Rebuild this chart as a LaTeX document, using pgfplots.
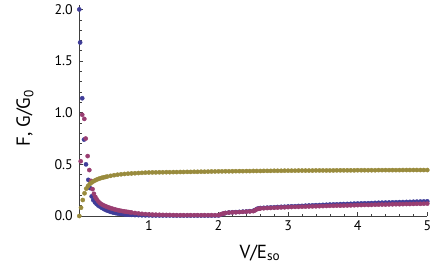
\documentclass[border=0pt]{standalone}
\usepackage{pgfplots}
\pgfplotsset{compat=1.18}
\usepackage{pgfplotstable}
\usepackage{fontspec}
\setmainfont{PT Sans}
\definecolor{mblue}{rgb}{0.2472,0.24,0.6}
\definecolor{mmag}{rgb}{0.6,0.24,0.4429}
\definecolor{molive}{rgb}{0.6,0.547,0.24}

\pgfplotstableread{
x y
0 2.00
0.012 1.68
0.042 1.14
0.068 0.74
0.096 0.50
0.13 0.35
0.155 0.27
0.178 0.19
0.2 0.155
0.225 0.132
0.25 0.115
0.275 0.10
0.3 0.09
0.325 0.079
0.35 0.069
0.375 0.06
0.4 0.053
0.425 0.047
0.45 0.041
0.475 0.036
0.5 0.032
0.525 0.028
0.55 0.025
0.575 0.022
0.6 0.02
0.625 0.018
0.65 0.016
0.675 0.014
0.7 0.013
0.725 0.012
0.75 0.011
0.8 0.009
0.85 0.008
0.9 0.007
0.95 0.006
1.0 0.006
1.05 0.005
1.1 0.005
1.15 0.005
1.2 0.005
1.25 0.005
1.3 0.005
1.35 0.004
1.4 0.004
1.45 0.004
1.5 0.004
1.55 0.004
1.6 0.004
1.65 0.004
1.7 0.004
1.75 0.004
1.8 0.004
1.85 0.004
1.9 0.004
1.95 0.004
2.0 0.005
2.025 0.011
2.05 0.018
2.075 0.024
2.1 0.029
2.15 0.034
2.2 0.036
2.25 0.038
2.3 0.040
2.35 0.042
2.4 0.044
2.45 0.047
2.5 0.050
2.525 0.058
2.55 0.068
2.575 0.074
2.6 0.077
2.65 0.079
2.7 0.081
2.75 0.083
2.8 0.085
2.85 0.087
2.9 0.089
2.95 0.090
3.0 0.092
3.05 0.094
3.1 0.095
3.15 0.097
3.2 0.098
3.25 0.100
3.3 0.102
3.35 0.103
3.4 0.105
3.45 0.106
3.5 0.108
3.55 0.109
3.6 0.111
3.65 0.112
3.7 0.113
3.75 0.115
3.8 0.116
3.85 0.117
3.9 0.118
3.95 0.120
4.0 0.121
4.05 0.122
4.1 0.123
4.15 0.124
4.2 0.125
4.25 0.127
4.3 0.128
4.35 0.129
4.4 0.130
4.45 0.131
4.5 0.132
4.55 0.133
4.6 0.134
4.65 0.135
4.7 0.136
4.75 0.137
4.8 0.138
4.85 0.139
4.9 0.140
4.95 0.141
5.0 0.142
}\blueG

\pgfplotstableread{
x y
0.02 0.53
0.042 0.98
0.072 0.94
0.092 0.75
0.12 0.58
0.144 0.445
0.168 0.34
0.19 0.26
0.21 0.215
0.23 0.185
0.25 0.162
0.275 0.14
0.3 0.123
0.325 0.112
0.35 0.103
0.375 0.095
0.4 0.088
0.425 0.082
0.45 0.076
0.475 0.071
0.5 0.066
0.525 0.061
0.55 0.057
0.575 0.053
0.6 0.05
0.625 0.047
0.65 0.044
0.675 0.041
0.7 0.039
0.725 0.036
0.75 0.034
0.8 0.029
0.85 0.025
0.9 0.021
0.95 0.018
1.0 0.016
1.05 0.014
1.1 0.013
1.15 0.012
1.2 0.011
1.25 0.010
1.3 0.010
1.35 0.009
1.4 0.008
1.45 0.008
1.5 0.008
1.55 0.008
1.6 0.008
1.65 0.008
1.7 0.008
1.75 0.008
1.8 0.008
1.85 0.008
1.9 0.008
1.95 0.008
2.0 0.008
2.025 0.014
2.05 0.020
2.075 0.025
2.1 0.029
2.15 0.033
2.2 0.035
2.25 0.036
2.3 0.038
2.35 0.040
2.4 0.042
2.45 0.044
2.5 0.047
2.525 0.055
2.55 0.065
2.575 0.070
2.6 0.073
2.65 0.075
2.7 0.077
2.75 0.078
2.8 0.080
2.85 0.081
2.9 0.083
2.95 0.084
3.0 0.086
3.05 0.087
3.1 0.088
3.15 0.089
3.2 0.090
3.25 0.091
3.3 0.092
3.35 0.093
3.4 0.094
3.45 0.095
3.5 0.096
3.55 0.097
3.6 0.098
3.65 0.099
3.7 0.100
3.75 0.100
3.8 0.101
3.85 0.102
3.9 0.103
3.95 0.104
4.0 0.105
4.05 0.106
4.1 0.107
4.15 0.107
4.2 0.108
4.25 0.109
4.3 0.110
4.35 0.111
4.4 0.111
4.45 0.112
4.5 0.113
4.55 0.114
4.6 0.114
4.65 0.115
4.7 0.116
4.75 0.116
4.8 0.117
4.85 0.118
4.9 0.118
4.95 0.119
5.0 0.120
}\magG

\pgfplotstableread{
x y
0 0.0
0.025 0.08
0.05 0.155
0.075 0.22
0.1 0.265
0.125 0.29
0.15 0.31
0.175 0.323
0.2 0.335
0.225 0.344
0.25 0.352
0.275 0.359
0.3 0.365
0.325 0.370
0.35 0.374
0.375 0.378
0.4 0.382
0.45 0.389
0.5 0.395
0.55 0.400
0.6 0.404
0.65 0.407
0.7 0.410
0.75 0.412
0.8 0.414
0.85 0.416
0.9 0.418
0.95 0.420
1.0 0.421
1.05 0.422
1.1 0.422
1.15 0.423
1.2 0.423
1.25 0.424
1.3 0.424
1.35 0.425
1.4 0.425
1.45 0.426
1.5 0.426
1.55 0.427
1.6 0.427
1.65 0.428
1.7 0.428
1.75 0.429
1.8 0.429
1.85 0.430
1.9 0.431
1.95 0.431
2.0 0.432
2.05 0.432
2.1 0.433
2.15 0.433
2.2 0.433
2.25 0.434
2.3 0.434
2.35 0.434
2.4 0.435
2.45 0.435
2.5 0.436
2.55 0.436
2.6 0.436
2.65 0.437
2.7 0.437
2.75 0.437
2.8 0.438
2.85 0.438
2.9 0.438
2.95 0.439
3.0 0.439
3.05 0.439
3.1 0.439
3.15 0.440
3.2 0.440
3.25 0.440
3.3 0.440
3.35 0.440
3.4 0.441
3.45 0.441
3.5 0.441
3.55 0.441
3.6 0.441
3.65 0.441
3.7 0.442
3.75 0.442
3.8 0.442
3.85 0.442
3.9 0.442
3.95 0.442
4.0 0.443
4.05 0.443
4.1 0.443
4.15 0.443
4.2 0.443
4.25 0.443
4.3 0.444
4.35 0.444
4.4 0.444
4.45 0.444
4.5 0.444
4.55 0.444
4.6 0.444
4.65 0.445
4.7 0.445
4.75 0.445
4.8 0.445
4.85 0.445
4.9 0.445
4.95 0.445
5.0 0.445
}\oliveF

\begin{document}
\begin{tikzpicture}
\useasboundingbox (-79.3bp,-55bp) rectangle (356.7bp,216bp);
\begin{axis}[
  at={(0,0)}, anchor=origin,
  scale only axis,
  width=348bp, height=210.7bp,
  xmin=0, xmax=5, ymin=0, ymax=2.04,
  axis lines*=left,
  axis line style={black!75, line width=0.6pt},
  clip=false,
  xtick={1,2,3,4,5},
  ytick={0,0.5,1,1.5,2},
  minor x tick num=4,
  minor y tick num=4,
  tick align=inside,
  major tick length=4bp,
  minor tick length=2.5bp,
  tick style={black!75, line width=0.5pt},
  /pgf/number format/assume math mode=true,
  tick label style={font=\fontsize{14}{16}\selectfont, black},
  yticklabel style={/pgf/number format/fixed, /pgf/number format/fixed zerofill, /pgf/number format/precision=1, xshift=-3bp},
  xticklabel style={/pgf/number format/fixed, /pgf/number format/precision=0, yshift=-1bp},
  label style={font=\fontsize{19}{21}\selectfont, black},
  xlabel={V/E\textsubscript{so}},
  ylabel={F, G/G\textsubscript{0}},
  xlabel style={at={(axis description cs:0.519,-0.2)}, anchor=base},
  ylabel style={at={(axis description cs:-0.156,0.465)}, anchor=center},
  every axis plot/.append style={only marks, mark=*, mark size=2.1bp},
]
\addplot[mblue, mark options={draw=none, fill=mblue}] table {\blueG};
\addplot[mmag, mark options={draw=none, fill=mmag}] table {\magG};
\addplot[molive, mark options={draw=none, fill=molive}] table {\oliveF};
\end{axis}
\end{tikzpicture}
\end{document}
